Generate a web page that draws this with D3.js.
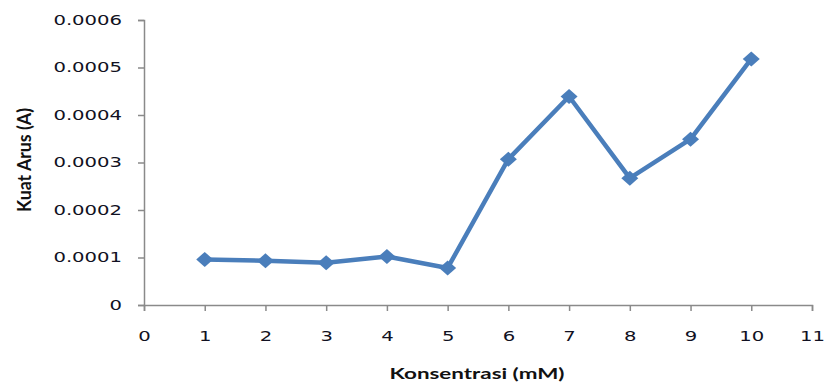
<!DOCTYPE html>
<html>
<head>
<meta charset="utf-8">
<script src="https://cdn.jsdelivr.net/npm/d3@7"></script>
<style>
  html, body { margin: 0; padding: 0; background: #fff; }
  svg { display: block; }
</style>
</head>
<body>
<svg id="chart" width="827" height="385"></svg>
<script>
// Concentration (mM) and measured current (A)
const konsentrasi = [1, 2, 3, 4, 5, 6, 7, 8, 9, 10];
const kuatArus = [0.000096, 0.000093, 0.000089, 0.000102, 0.000078, 0.000307, 0.000439, 0.000267, 0.000349, 0.000518];
const xTicks = [0, 1, 2, 3, 4, 5, 6, 7, 8, 9, 10, 11];
const yTicks = [0, 0.0001, 0.0002, 0.0003, 0.0004, 0.0005, 0.0006];
const yTickLabels = ["0", "0.0001", "0.0002", "0.0003", "0.0004", "0.0005", "0.0006"];

const svg = d3.select("#chart");
const plot = { left: 144, right: 812, top: 20, bottom: 305 };
const widen = 1.4; // horizontal glyph stretch used for all labels

const x = d3.scaleLinear().domain([0, 11]).range([plot.left, plot.right]);
const y = d3.scaleLinear().domain([0, 0.0006]).range([plot.bottom, plot.top]);

const axisColor = "#8a8a8a";
const tickFont = "'DejaVu Sans', Verdana, sans-serif";

function stretch(sel, factor) {
  sel.each(function () {
    const len = this.getComputedTextLength();
    d3.select(this).attr("textLength", len * factor).attr("lengthAdjust", "spacingAndGlyphs");
  });
}

// Y axis
const yAxis = svg.append("g")
  .attr("transform", `translate(${plot.left},0)`)
  .call(d3.axisLeft(y).tickValues(yTicks).tickSize(6).tickPadding(16)
    .tickFormat((d, i) => yTickLabels[i]));
// X axis
const xAxis = svg.append("g")
  .attr("transform", `translate(0,${plot.bottom})`)
  .call(d3.axisBottom(x).tickValues(xTicks).tickSize(6).tickPadding(20)
    .tickFormat(d3.format("d")));

[yAxis, xAxis].forEach(g => {
  g.select(".domain").attr("stroke", axisColor).attr("stroke-width", 1.5);
  g.selectAll(".tick line").attr("stroke", axisColor).attr("stroke-width", 1.5);
  g.selectAll(".tick text")
    .attr("fill", "#111122")
    .style("font-family", tickFont)
    .style("font-size", "14px")
    .call(stretch, widen);
});

// Data line
const data = konsentrasi.map((k, i) => ({ k, v: kuatArus[i] }));
const color = "#4a7ebb";

svg.append("path")
  .datum(data)
  .attr("fill", "none")
  .attr("stroke", color)
  .attr("stroke-width", 4.5)
  .attr("stroke-linejoin", "round")
  .attr("d", d3.line().x(d => x(d.k)).y(d => y(d.v)));

// Diamond markers
svg.append("g")
  .selectAll("path")
  .data(data)
  .join("path")
  .attr("transform", d => `translate(${x(d.k)},${y(d.v)})`)
  .attr("d", "M0,-7.5 L8.5,0 L0,7.5 L-8.5,0 Z")
  .attr("fill", color);

// Axis titles
svg.append("text")
  .attr("transform", `translate(31,160) scale(${widen},1) rotate(-90)`)
  .attr("text-anchor", "middle")
  .attr("textLength", 104)
  .attr("lengthAdjust", "spacingAndGlyphs")
  .style("font-family", "Lato, 'Liberation Sans Narrow', sans-serif")
  .style("font-weight", "bold")
  .style("font-size", "14px")
  .attr("fill", "#111")
  .text("Kuat Arus (A)");

svg.append("text")
  .attr("x", 477)
  .attr("y", 379)
  .attr("text-anchor", "middle")
  .attr("textLength", 175)
  .attr("lengthAdjust", "spacingAndGlyphs")
  .style("font-family", "Lato, 'Liberation Sans', sans-serif")
  .style("font-weight", "bold")
  .style("font-size", "15.5px")
  .attr("fill", "#111")
  .text("Konsentrasi (mM)");
</script>
</body>
</html>
